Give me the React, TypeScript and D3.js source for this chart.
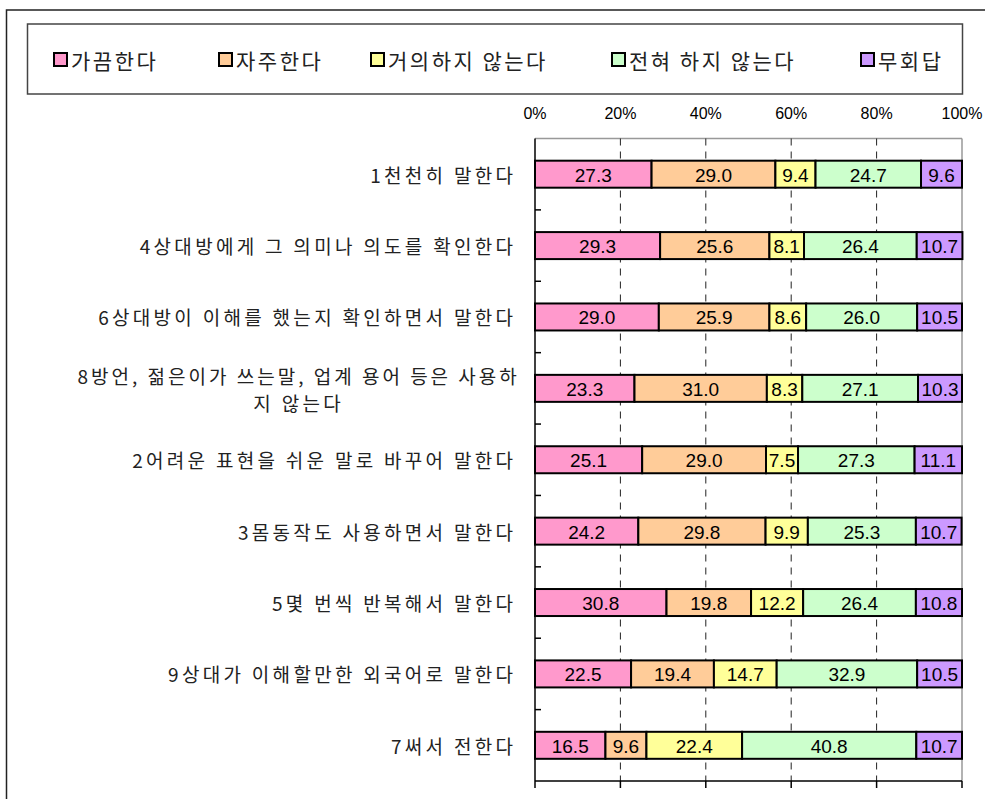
import React from "react";
import * as d3 from "d3";

const categories = [
  "1천천히 말한다",
  "4상대방에게 그 의미나 의도를 확인한다",
  "6상대방이 이해를 했는지 확인하면서 말한다",
  "8방언, 젊은이가 쓰는말, 업계 용어 등은 사용하|지 않는다",
  "2어려운 표현을 쉬운 말로 바꾸어 말한다",
  "3몸동작도 사용하면서 말한다",
  "5몇 번씩 반복해서 말한다",
  "9상대가 이해할만한 외국어로 말한다",
  "7써서 전한다",
];

const seriesNames = ["가끔한다", "자주한다", "거의하지 않는다", "전혀 하지 않는다", "무회답"];
const seriesColors = ["#FF99CC", "#FFCC99", "#FFFF99", "#CCFFCC", "#CC99FF"];

const sometimes = [27.3, 29.3, 29.0, 23.3, 25.1, 24.2, 30.8, 22.5, 16.5];
const often = [29.0, 25.6, 25.9, 31.0, 29.0, 29.8, 19.8, 19.4, 9.6];
const rarely = [9.4, 8.1, 8.6, 8.3, 7.5, 9.9, 12.2, 14.7, 22.4];
const never = [24.7, 26.4, 26.0, 27.1, 27.3, 25.3, 26.4, 32.9, 40.8];
const noAnswer = [9.6, 10.7, 10.5, 10.3, 11.1, 10.7, 10.8, 10.5, 10.7];

const tickValues = [0, 20, 40, 60, 80, 100];
const legendX = [54, 219, 371, 612, 861];

const W = 985;
const H = 799;
const left = 535;
const right = 962;
const top = 138.5;
const bottom = 781;

export default function App() {
  const x = d3.scaleLinear().domain([0, 100]).range([left, right]);
  const y = d3.scaleBand<string>().domain(categories).range([top, bottom]).paddingInner(0).paddingOuter(0);
  const bw = 27;
  const series = [sometimes, often, rarely, never, noAnswer];
  const rows = categories.map((c, i) => {
    const obj: any = { cat: c };
    series.forEach((s, j) => (obj["s" + j] = s[i]));
    return obj;
  });
  const stack = d3.stack<any>().keys(series.map((_, j) => "s" + j))(rows);
  const step = y.step();
  const boundaries = d3.range(1, categories.length).map((i) => top + i * step);
  const korFont = "'Noto Sans CJK KR', sans-serif";
  const numFont = "'Liberation Sans', Arial, sans-serif";
  const catSize = 19;
  const catLs = 3.3;

  return (
    <svg width={W} height={H} style={{ position: "absolute", left: 0, top: 0, background: "#fff" }}>
      <rect x={6.5} y={10} width={1200} height={1000} fill="#fff" stroke="#222" strokeWidth={1.5} />
      {/* legend */}
      <rect x={27.5} y={24} width={935} height={70} fill="#fff" stroke="#444" strokeWidth={1.5} />
      {seriesNames.map((n, j) => (
        <g key={n}>
          <rect x={legendX[j]} y={53} width={13} height={13} fill={seriesColors[j]} stroke="#000" strokeWidth={2} />
          <text x={legendX[j] + 17} y={60} dominantBaseline="central" fontFamily={korFont} fontSize={21} fill="#222" letterSpacing={2.5}>
            {n}
          </text>
        </g>
      ))}
      {/* plot frame */}
      <line x1={left} x2={right} y1={top} y2={top} stroke="#999" strokeWidth={1.5} />
      <line x1={right} x2={right} y1={top} y2={bottom} stroke="#999" strokeWidth={1.5} />
      {/* grid */}
      {tickValues.slice(1, -1).map((t) => (
        <line key={t} x1={x(t)} x2={x(t)} y1={top} y2={bottom} stroke="#222" strokeWidth={1} strokeDasharray="7,6" />
      ))}
      {/* top tick labels */}
      {tickValues.map((t) => (
        <text key={t} x={x(t)} y={113} textAnchor="middle" dominantBaseline="central" fontFamily={numFont} fontSize={16} fill="#000">
          {t}%
        </text>
      ))}
      {/* bars */}
      {stack.map((layer, j) => (
        <g key={j}>
          {layer.map((d, i) => {
            const yy = (y(categories[i]) as number) + step / 2 - bw / 2;
            return (
              <rect key={i} x={x(d[0])} y={yy} width={x(d[1]) - x(d[0])} height={bw} fill={seriesColors[j]} stroke="#000" strokeWidth={2} />
            );
          })}
        </g>
      ))}
      {stack.map((layer, j) => (
        <g key={"t" + j}>
          {layer.map((d, i) => (
            <text
              key={i}
              x={(x(d[0]) + x(d[1])) / 2}
              y={(y(categories[i]) as number) + step / 2 + 1}
              textAnchor="middle"
              dominantBaseline="central"
              fontFamily={numFont}
              fontSize={19}
              fill="#000"
            >
              {series[j][i].toFixed(1)}
            </text>
          ))}
        </g>
      ))}
      {/* axes */}
      <line x1={left} x2={left} y1={top} y2={bottom} stroke="#000" strokeWidth={1.5} />
      <line x1={left} x2={right} y1={bottom} y2={bottom} stroke="#000" strokeWidth={1.5} />
      {boundaries.map((b, i) => (
        <line key={i} x1={left} x2={left + 6} y1={b} y2={b} stroke="#000" strokeWidth={1.5} />
      ))}
      {tickValues.map((t) => (
        <line key={t} x1={x(t)} x2={x(t)} y1={bottom} y2={bottom + 7} stroke="#000" strokeWidth={1.5} />
      ))}
      {/* category labels */}
      {categories.map((c, i) => {
        const lines = c.split("|");
        const cy = (y(c) as number) + step / 2;
        const lh = 27;
        if (lines.length === 1) {
          return (
            <text key={c} x={513 + catLs} y={cy} textAnchor="end" dominantBaseline="central" fontFamily={korFont} fontSize={catSize} fill="#222" letterSpacing={catLs}>
              {c}
            </text>
          );
        }
        return (
          <g key={c}>
            {lines.map((l, k) => (
              <text key={k} x={297 + catLs / 2} y={cy - 12.5 + k * lh} textAnchor="middle" dominantBaseline="central" fontFamily={korFont} fontSize={catSize} fill="#222" letterSpacing={k === 0 ? 3 : catLs}>
                {l}
              </text>
            ))}
          </g>
        );
      })}
    </svg>
  );
}
